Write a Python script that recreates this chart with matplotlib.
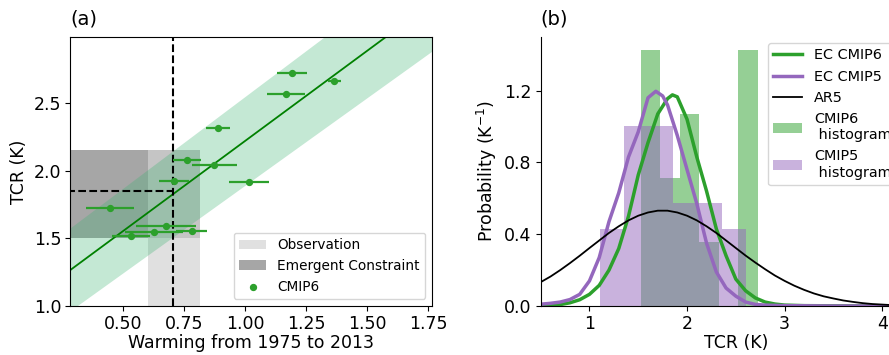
import numpy as np
import matplotlib
matplotlib.use('Agg')
import matplotlib.pyplot as plt

# ---- panel (a): CMIP6 models, warming 1975-2013 vs TCR ----
cmip6_warming = [1.193, 1.365, 1.167, 0.890, 0.760, 0.873, 0.708, 1.016, 0.445, 0.674, 0.626, 0.781, 0.533]
cmip6_tcr = [2.72, 2.66, 2.569, 2.318, 2.078, 2.044, 1.925, 1.918, 1.723, 1.594, 1.55, 1.557, 1.52]
cmip6_err = [0.062, 0.026, 0.079, 0.049, 0.058, 0.093, 0.063, 0.081, 0.098, 0.123, 0.118, 0.064, 0.078]

# regression line and its band
fit_x = [0.283, 1.766]
fit_y = [1.266, 3.24]
band_lo = [0.966, 2.884]
band_hi = [1.578, 3.587]

obs_range = [0.601, 0.813]     # observed warming
ec_range = [1.50, 2.15]        # constrained TCR
obs_best = 0.705
ec_best = 1.853

# ---- panel (b): distributions of TCR ----
ec6_tcr = [0.5, 0.6, 0.7, 0.8, 0.9, 1.0, 1.1, 1.2, 1.3, 1.4, 1.5, 1.6, 1.7, 1.8, 1.85, 1.9, 2.0,
           2.1, 2.2, 2.3, 2.4, 2.5, 2.6, 2.7, 2.8, 2.9, 3.0, 3.2, 3.5, 4.0, 4.5]
ec6_pdf = [0.002, 0.004, 0.008, 0.018, 0.035, 0.065, 0.115, 0.20, 0.32, 0.50, 0.73, 0.91, 1.07, 1.155,
           1.176, 1.165, 1.04, 0.83, 0.64, 0.43, 0.28, 0.15, 0.085, 0.045, 0.022, 0.011, 0.005, 0.002,
           0.001, 0.0, 0.0]
ec5_tcr = [0.5, 0.6, 0.7, 0.8, 0.9, 1.0, 1.1, 1.2, 1.3, 1.4, 1.5, 1.6, 1.68, 1.75, 1.8, 1.9, 2.0,
           2.1, 2.2, 2.3, 2.4, 2.5, 2.6, 2.7, 2.8, 3.0, 3.5, 4.5]
ec5_pdf = [0.010, 0.015, 0.022, 0.036, 0.065, 0.14, 0.27, 0.47, 0.63, 0.83, 0.97, 1.16, 1.196, 1.17,
           1.12, 0.95, 0.76, 0.57, 0.35, 0.19, 0.10, 0.055, 0.022, 0.009, 0.005, 0.002, 0.0, 0.0]
ar5_tcr = np.linspace(0.5, 4.5, 41)
ar5_pdf = [0.133, 0.164, 0.200, 0.239, 0.280, 0.323, 0.365, 0.407, 0.444, 0.477, 0.503, 0.521, 0.531,
           0.531, 0.521, 0.503, 0.477, 0.444, 0.407, 0.365, 0.323, 0.281, 0.242, 0.205, 0.170, 0.140,
           0.113, 0.090, 0.070, 0.054, 0.042, 0.031, 0.023, 0.016, 0.011, 0.008, 0.005, 0.003, 0.002,
           0.001, 0.001]

hist6_edges = [1.524, 1.724, 1.924, 2.124, 2.324, 2.524]
hist6_heights = [1.425, 0.712, 1.068, 0.357, 0.0, 1.425]
hist5_edges = [1.105, 1.355, 1.605, 1.855, 2.105, 2.355]
hist5_heights = [0.428, 1.0, 1.0, 0.572, 0.572, 0.428]

green = '#2ca02c'
purple = '#9467bd'
fs = 12.5

plt.rcParams['font.family'] = ['DejaVu Sans']
fig = plt.figure(figsize=(8.89, 3.55), dpi=100)

# (a)
ax = fig.add_axes([0.0791, 0.138, 0.4069, 0.7586])
ax.fill_between([0.0, obs_range[1]], ec_range[0], ec_range[1], color='grey', alpha=0.7,
                linewidth=0, label='Emergent Constraint')
ax.fill_between(obs_range, 0.0, ec_range[1], color='lightgrey', alpha=0.7,
                linewidth=0, label='Observation')
ax.fill_between(fit_x, band_lo, band_hi, color='mediumseagreen', alpha=0.3, linewidth=0)
ax.plot(fit_x, fit_y, color='green', linewidth=1.3)
ax.axvline(obs_best, color='k', linestyle='--', linewidth=1.5)
ax.plot([0.0, obs_best], [ec_best, ec_best], color='k', linestyle='--', linewidth=1.5)
ax.errorbar(cmip6_warming, cmip6_tcr, xerr=cmip6_err, fmt='none', ecolor=green, elinewidth=1.6)
ax.scatter(cmip6_warming, cmip6_tcr, s=18, color=green, zorder=3, label='CMIP6')
ax.set_xlim(0.283, 1.766)
ax.set_ylim(1.0, 2.99)
ax.set_xticks([0.5, 0.75, 1.0, 1.25, 1.5, 1.75])
ax.set_yticks([1.0, 1.5, 2.0, 2.5])
ax.tick_params(labelsize=fs, pad=3)
ax.set_xlabel('Warming from 1975 to 2013', fontsize=fs, labelpad=1)
ax.set_ylabel('TCR (K)', fontsize=fs)
h, l = ax.get_legend_handles_labels()
order = [l.index('Observation'), l.index('Emergent Constraint'), l.index('CMIP6')]
ax.legend([h[i] for i in order], [l[i] for i in order], loc='lower right', fontsize=9.8)
ax.text(0.0, 1.03, '(a)', transform=ax.transAxes, fontsize=14, ha='left', va='bottom')

# (b)
bx = fig.add_axes([0.6082, 0.138, 0.4390, 0.7586])
b6 = bx.bar(hist6_edges, hist6_heights, width=0.2, align='edge', color=green, alpha=0.5,
            linewidth=0, label='CMIP6\n histogram')
b5 = bx.bar(hist5_edges, hist5_heights, width=0.25, align='edge', color=purple, alpha=0.5,
            linewidth=0, label='CMIP5\n histogram')
l6, = bx.plot(ec6_tcr, ec6_pdf, color=green, linewidth=2.5, label='EC CMIP6')
l5, = bx.plot(ec5_tcr, ec5_pdf, color=purple, linewidth=2.5, label='EC CMIP5')
la, = bx.plot(ar5_tcr, ar5_pdf, color='k', linewidth=1.3, label='AR5')
bx.set_xlim(0.5, 4.5)
bx.set_ylim(0.0, 1.5)
bx.set_xticks([1, 2, 3, 4])
bx.set_yticks([0.0, 0.4, 0.8, 1.2])
bx.spines['top'].set_visible(False)
bx.spines['right'].set_visible(False)
bx.tick_params(labelsize=fs, pad=3)
bx.set_xlabel('TCR (K)', fontsize=fs, labelpad=1)
bx.set_ylabel('Probability (K$^{-1}$)', fontsize=fs)
bx.legend([l6, l5, la, b6, b5], ['EC CMIP6', 'EC CMIP5', 'AR5', 'CMIP6\n histogram', 'CMIP5\n histogram'],
          loc='upper left', bbox_to_anchor=(0.5816, 0.978), borderaxespad=0, fontsize=10.4)
bx.text(0.0, 1.03, '(b)', transform=bx.transAxes, fontsize=14, ha='left', va='bottom')

plt.savefig('out.png', dpi=100)
